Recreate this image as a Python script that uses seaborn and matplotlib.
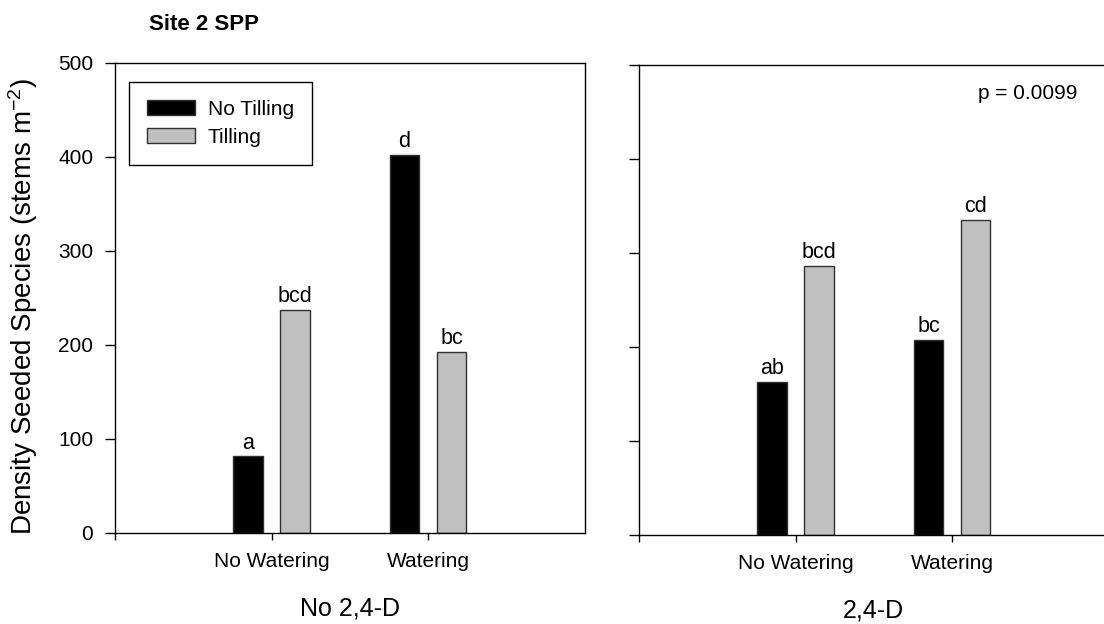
import matplotlib
matplotlib.use("Agg")
import matplotlib.pyplot as plt
import pandas as pd
import seaborn as sns

# Treatment levels
watering = ["No Watering", "Watering"]
tilling = ["No Tilling", "Tilling"]
panel_names = ["No 2,4-D", "2,4-D"]

# Density of seeded species (stems m^-2), per herbicide panel
no24d_no_till = [81, 402]
no24d_till = [237, 192]
with24d_no_till = [162, 207]
with24d_till = [286, 335]

# Mean-separation letters above each bar
no24d_letters_no_till = ["a", "d"]
no24d_letters_till = ["bcd", "bc"]
with24d_letters_no_till = ["ab", "bc"]
with24d_letters_till = ["bcd", "cd"]

y_ticks = [0, 100, 200, 300, 400, 500]
p_value_text = "p = 0.0099"

sns.set_style("ticks")
plt.rcParams["font.family"] = ["Liberation Sans", "DejaVu Sans"]
plt.rcParams["mathtext.fontset"] = "custom"
plt.rcParams["mathtext.rm"] = "Liberation Sans"
plt.rcParams["mathtext.it"] = "Liberation Sans:italic"
for key in ["text.color", "axes.labelcolor", "xtick.color", "ytick.color", "axes.edgecolor"]:
    plt.rcParams[key] = "black"


def make_frame(no_till, till):
    return pd.DataFrame({
        "watering": watering * 2,
        "tilling": [tilling[0]] * len(watering) + [tilling[1]] * len(watering),
        "density": list(no_till) + list(till),
    })


panels = [
    (make_frame(no24d_no_till, no24d_till), no24d_letters_no_till, no24d_letters_till),
    (make_frame(with24d_no_till, with24d_till), with24d_letters_no_till, with24d_letters_till),
]

fig = plt.figure(figsize=(11.04, 6.24), dpi=100)
ax_left = fig.add_axes([0.1042, 0.1466, 0.4253, 0.7532])
ax_right = fig.add_axes([0.5788, 0.1434, 0.4253, 0.7532])
axes = [ax_left, ax_right]

for i, (ax, (df, letters_nt, letters_t)) in enumerate(zip(axes, panels)):
    sns.barplot(
        data=df, x="watering", y="density", hue="tilling",
        order=watering, hue_order=tilling,
        palette=["#000000", "#C0C0C0"], saturation=1,
        width=0.6, gap=0.37, edgecolor="#303030", linewidth=1.0,
        errorbar=None, legend=(i == 0), ax=ax,
    )
    for container, letters in zip(ax.containers, [letters_nt, letters_t]):
        ax.bar_label(container, labels=letters, padding=2, fontsize=15.5, color="black")

    ax.set_xlim(-1, 2)
    ax.set_xticks([-1, 0, 1])
    ax.set_xticklabels(["", watering[0], watering[1]], fontsize=15)
    ax.set_ylim(0, 500)
    ax.set_yticks(y_ticks)
    ax.tick_params(axis="x", direction="out", length=5, width=1, pad=9, color="black",
                   labelcolor="black")
    ax.tick_params(axis="y", direction="out", length=7.2, width=1, pad=8.5, color="black",
                   labelsize=15, labelcolor="black")
    for side in ["left", "right", "top", "bottom"]:
        ax.spines[side].set_visible(True)
        ax.spines[side].set_color("black")
        ax.spines[side].set_linewidth(1.0)
    ax.set_xlabel(panel_names[i], fontsize=18, color="black")
    ax.xaxis.set_label_coords(0.5, -0.137)
    ax.xaxis.label.set_va("top")

ax_left.set_ylabel("Density Seeded Species (stems m$^{-2}$)", fontsize=20, color="black")
ax_left.yaxis.set_label_coords(-0.16, 0.48)
ax_right.set_ylabel("")
ax_right.tick_params(axis="y", labelleft=False)

handles, labels = ax_left.get_legend_handles_labels()
leg = ax_left.legend(
    handles, labels, loc="upper left", bbox_to_anchor=(0.0298, 0.959),
    borderaxespad=0, fontsize=15, frameon=True, fancybox=False, framealpha=1,
    edgecolor="black", handlelength=2.3, handleheight=0.72, handletextpad=0.6,
    labelspacing=0.42, borderpad=0.87,
)
leg.get_frame().set_linewidth(1.0)
for t in leg.get_texts():
    t.set_color("black")

ax_right.text(0.933, 0.938, p_value_text, transform=ax_right.transAxes,
              ha="right", va="center", fontsize=15, color="black")

fig.text(149 / 1104, 0.961, "Site 2 SPP", ha="left", va="center",
         fontsize=16, fontweight="bold", color="black")

fig.savefig("out.png", dpi=100)
